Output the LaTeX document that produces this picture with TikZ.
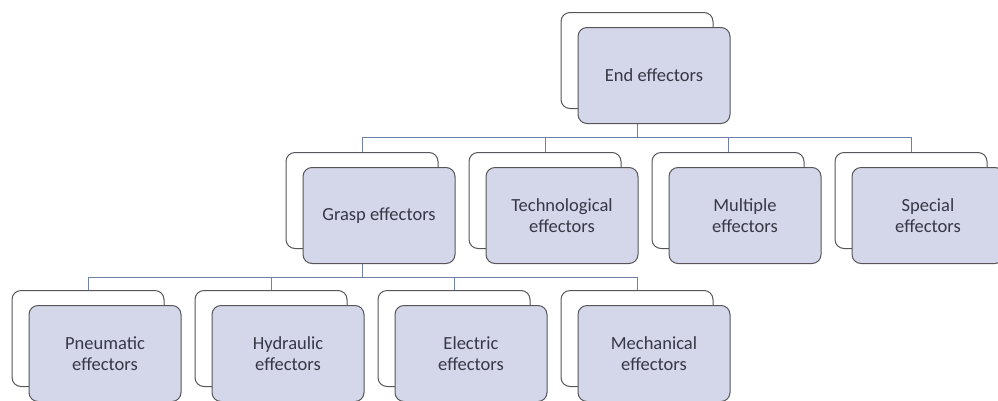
\documentclass[tikz,border=0pt]{standalone}
\usepackage{fontspec}
\setmainfont{Carlito}
\usetikzlibrary{backgrounds}
\definecolor{frontfill}{RGB}{212,215,233}
\definecolor{boxline}{RGB}{85,85,90}
\definecolor{connline}{RGB}{110,128,165}
\definecolor{txt}{RGB}{55,55,70}
\tikzset{
  backbox/.style={draw=boxline, line width=1pt, fill=white, rounded corners=9pt,
    minimum width=152pt, minimum height=96pt, inner sep=0pt, anchor=north},
  frontbox/.style={draw=boxline, line width=1pt, fill=frontfill, rounded corners=9pt,
    minimum width=152pt, minimum height=96pt, inner sep=2pt, anchor=north,
    text=txt, align=center, font=\fontsize{18.5pt}{21.5pt}\selectfont},
  conn/.style={draw=connline, line width=1pt}
}
\newcommand{\effpair}[4]{%
  \node[backbox] (#1B) at (#2,#3) {};
  \node[frontbox] (#1) at (#2+17,#3+15) {#4};
}
\begin{document}
\begin{tikzpicture}[x=1pt,y=-1pt]
\useasboundingbox (0,0) rectangle (998,400);
\effpair{end}{637}{12}{End effectors}
\effpair{grasp}{362}{152}{Grasp effectors}
\effpair{tech}{545}{152}{Technological\\effectors}
\effpair{mult}{728}{152}{Multiple\\effectors}
\effpair{spec}{911}{152}{Special\\effectors}
\effpair{pneu}{88}{290}{Pneumatic\\effectors}
\effpair{hydr}{271}{290}{Hydraulic\\effectors}
\effpair{elec}{454}{290}{Electric\\effectors}
\effpair{mech}{637}{290}{Mechanical\\effectors}
\coordinate (h1) at (0,137);
\coordinate (h2) at (0,277);
\begin{scope}[on background layer]
\foreach \c in {grasp,tech,mult,spec}
  \draw[conn] (endB.south) -- (endB.south |- h1) -| (\c B.north);
\foreach \c in {pneu,hydr,elec,mech}
  \draw[conn] (graspB.south) -- (graspB.south |- h2) -| (\c B.north);
\end{scope}
\end{tikzpicture}
\end{document}
